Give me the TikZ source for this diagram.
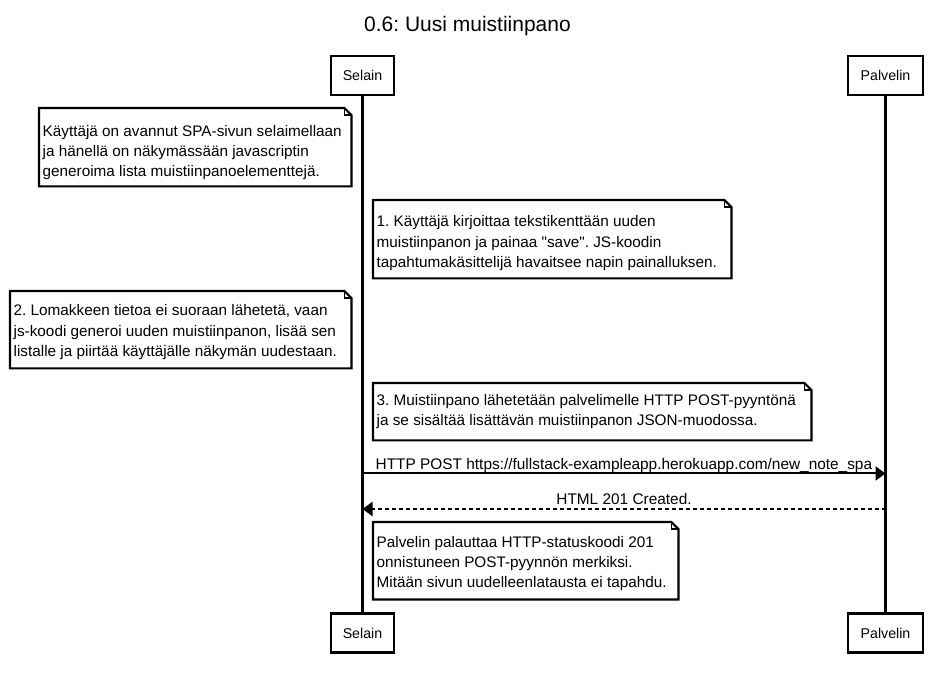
\documentclass[tikz,border=0pt]{standalone}
\usepackage{fontspec}
\setmainfont{Liberation Sans}
\usetikzlibrary{arrows.meta,calc}
\frenchspacing
\newcommand\notefold[1]{%
  \draw[noteline] (#1.south west) -- (#1.north west) -- ([xshift=-7pt]#1.north east)
    -- ([yshift=-7pt]#1.north east) -- (#1.south east) -- cycle;
  \draw[noteline,line width=1.2pt] ([xshift=-7pt]#1.north east) -- ([xshift=-7pt,yshift=-7pt]#1.north east)
    -- ([yshift=-7pt]#1.north east);}
\begin{document}
\begin{tikzpicture}[x=1pt,y=-1pt,
  actor/.style={draw,line width=2.2pt,fill=white,inner sep=0pt,minimum height=39pt,
    font=\fontsize{14.2}{16}\selectfont},
  life/.style={line width=2.2pt},
  notebox/.style={draw=none,fill=white,inner sep=0pt,anchor=north west},
  noteline/.style={line width=2.2pt,line join=miter},
  notetext/.style={inner sep=0pt,anchor=north west,align=left,
    font=\fontsize{15.3}{20.3}\selectfont,execute at begin node={\frenchspacing\rule{0pt}{12pt}}},
  lbl/.style={inner sep=0pt,font=\fontsize{15.4}{17}\selectfont},
  msg/.style={line width=2pt,-{Triangle[length=10pt,width=14pt]}},
  ret/.style={line width=2pt,dash pattern=on 4pt off 3pt,-{Triangle[length=10pt,width=14pt]}}]
\useasboundingbox (0,0) rectangle (938,676);
\node[inner sep=0pt,anchor=base,font=\fontsize{21}{24}\selectfont] (title) at (467.5,31.5) {0.6: Uusi muistiinpano};
% actors
\node[actor,minimum width=63pt] (sTop) at (362.5,75.5) {Selain};
\node[actor,minimum width=75pt] (pTop) at (885.5,75.5) {Palvelin};
\node[actor,minimum width=63pt] (sBot) at (362.5,633) {Selain};
\node[actor,minimum width=75pt] (pBot) at (885.5,633) {Palvelin};
\draw[life] (sTop.south) -- (sBot.north);
\draw[life] (pTop.south) -- (pBot.north);
% notes
\node[notebox,minimum width=312pt,minimum height=78pt] (n1) at (39,108) {};
\notefold{n1}
\node[notetext] (n1t) at (42.5,125) {Käyttäjä on avannut SPA-sivun selaimellaan\\ja hänellä on näkymässään javascriptin\\generoima lista muistiinpanoelementtejä.};
\node[notebox,minimum width=358pt,minimum height=78pt] (n2) at (373,200) {};
\notefold{n2}
\node[notetext] (n2t) at (376.5,215.5) {1. Käyttäjä kirjoittaa tekstikenttään uuden\\muistiinpanon ja painaa \textquotedbl save\textquotedbl. JS-koodin\\tapahtumakäsittelijä havaitsee napin painalluksen.};
\node[notebox,minimum width=341pt,minimum height=77pt] (n3) at (10,291) {};
\notefold{n3}
\node[notetext] (n3t) at (13.5,304.5) {2. Lomakkeen tietoa ei suoraan lähetetä, vaan\\js-koodi generoi uuden muistiinpanon, lisää sen\\listalle ja piirtää käyttäjälle näkymän uudestaan.};
\node[notebox,minimum width=438pt,minimum height=57pt] (n4) at (373,383) {};
\notefold{n4}
\node[notetext] (n4t) at (376.5,394) {3. Muistiinpano lähetetään palvelimelle HTTP POST-pyyntönä\\ja se sisältää lisättävän muistiinpanon JSON-muodossa.};
\node[notebox,minimum width=305pt,minimum height=77pt] (n5) at (373,522) {};
\notefold{n5}
\node[notetext] (n5t) at (376.5,536) {Palvelin palauttaa HTTP-statuskoodi 201\\onnistuneen POST-pyynnön merkiksi.\\Mitään sivun uudelleenlatausta ei tapahdu.};
% messages
\coordinate (yPost) at (0,473.5);
\coordinate (yResp) at (0,509);
\draw[msg] (sTop |- yPost) -- (pTop |- yPost);
\node[lbl,anchor=base west] (lPost) at (375.5,470) {HTTP POST https://fullstack-exampleapp.herokuapp.com/new\_note\_spa};
\draw[ret] (pTop |- yResp) -- (sTop |- yResp);
\node[lbl,anchor=base] (lResp) at (624,504.5) {HTML 201 Created.};
\end{tikzpicture}
\end{document}
